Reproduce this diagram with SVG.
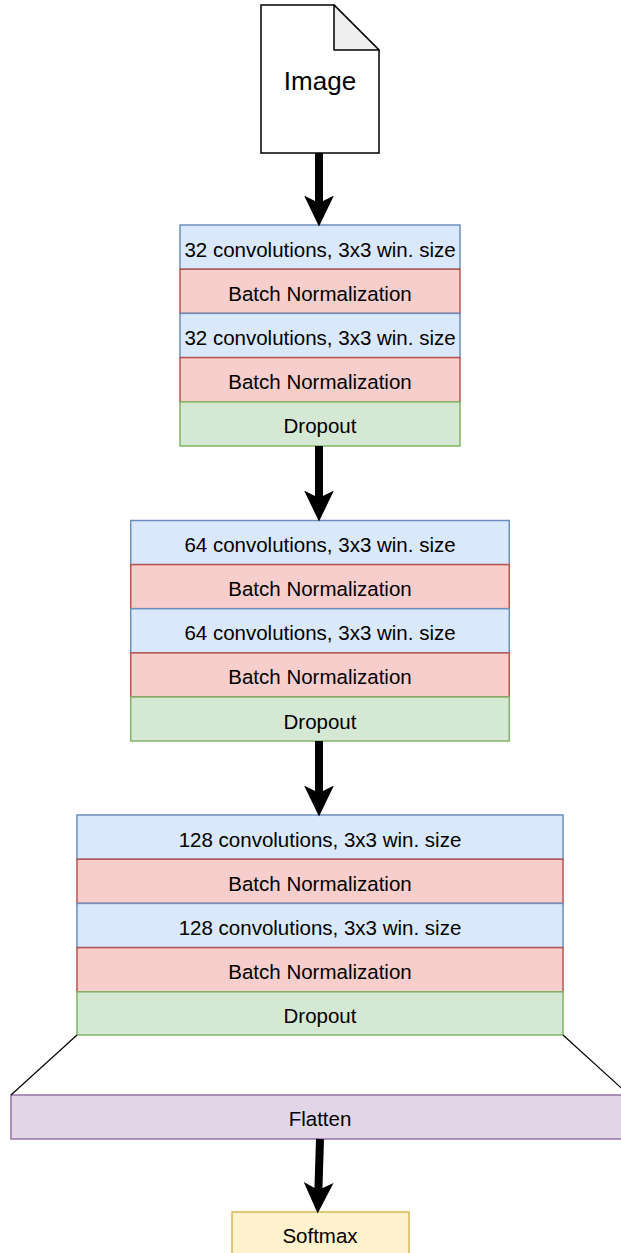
<svg xmlns="http://www.w3.org/2000/svg" width="621" height="1253" viewBox="0 0 621 1253">
<style>
text{font-family:"Liberation Sans",Arial,Helvetica,sans-serif;font-size:20.5px;fill:#000;text-anchor:middle}
.b{fill:#dae8fc;stroke:#6c8ebf;stroke-width:1.5}
.r{fill:#f8cecc;stroke:#b85450;stroke-width:1.5}
.g{fill:#d5e8d4;stroke:#82b366;stroke-width:1.5}
.p{fill:#e1d5e7;stroke:#9673a6;stroke-width:1.5}
.y{fill:#fff2cc;stroke:#d6b656;stroke-width:1.5}
.arr{stroke:#000;stroke-width:8;fill:none;marker-end:url(#ah)}
.thin{stroke:#000;stroke-width:1.2;fill:none}
</style>
<defs>
<marker id="ah" markerUnits="userSpaceOnUse" markerWidth="32" markerHeight="32" viewBox="0 0 30 28" refX="7" refY="14" orient="auto">
<path d="M29,14 L0,0 L7,14 L0,28 Z" fill="#000"/>
</marker>
</defs>
<rect width="621" height="1253" fill="#fff"/>
<g id="image">
<path d="M261,5 L334,5 L379,50 L379,153 L261,153 Z" fill="#fff" stroke="#000" stroke-width="1.5"/>
<path d="M334,5 L334,50 L379,50 Z" fill="#efefef" stroke="#000" stroke-width="1.5" stroke-linejoin="round"/>
<text x="320" y="90" style="font-size:26px">Image</text>
</g>
<g id="block1">
<rect class="b" x="180" y="225" width="280" height="44.2"/>
<rect class="r" x="180" y="269.2" width="280" height="44.2"/>
<rect class="b" x="180" y="313.4" width="280" height="44.2"/>
<rect class="r" x="180" y="357.6" width="280" height="44.2"/>
<rect class="g" x="180" y="401.8" width="280" height="44.2"/>
<text x="320" y="256.5">32 convolutions, 3x3 win. size</text>
<text x="320" y="300.7">Batch Normalization</text>
<text x="320" y="345">32 convolutions, 3x3 win. size</text>
<text x="320" y="389">Batch Normalization</text>
<text x="320" y="433.3">Dropout</text>
</g>
<g id="block2">
<rect class="b" x="130.7" y="520.5" width="378.6" height="44.1"/>
<rect class="r" x="130.7" y="564.6" width="378.6" height="44.1"/>
<rect class="b" x="130.7" y="608.7" width="378.6" height="44.2"/>
<rect class="r" x="130.7" y="652.9" width="378.6" height="44.1"/>
<rect class="g" x="130.7" y="697" width="378.6" height="44"/>
<text x="320" y="552">64 convolutions, 3x3 win. size</text>
<text x="320" y="596">Batch Normalization</text>
<text x="320" y="640.2">64 convolutions, 3x3 win. size</text>
<text x="320" y="684.4">Batch Normalization</text>
<text x="320" y="728.5">Dropout</text>
</g>
<g id="block3">
<rect class="b" x="77" y="815" width="486" height="44.2"/>
<rect class="r" x="77" y="859.2" width="486" height="44.2"/>
<rect class="b" x="77" y="903.4" width="486" height="44.2"/>
<rect class="r" x="77" y="947.6" width="486" height="44.2"/>
<rect class="g" x="77" y="991.8" width="486" height="43.2"/>
<text x="320" y="846.5">128 convolutions, 3x3 win. size</text>
<text x="320" y="890.7">Batch Normalization</text>
<text x="320" y="935">128 convolutions, 3x3 win. size</text>
<text x="320" y="979">Batch Normalization</text>
<text x="320" y="1023.3">Dropout</text>
</g>
<g id="flatten">
<rect class="p" x="11" y="1095" width="618" height="44"/>
<text x="320" y="1126">Flatten</text>
</g>
<g id="softmax">
<rect class="y" x="232" y="1212" width="177" height="46"/>
<text x="320" y="1243">Softmax</text>
</g>
<g id="connectors">
<line class="arr" x1="319" y1="153" x2="319" y2="203"/>
<line class="arr" x1="319" y1="446" x2="319" y2="498"/>
<line class="arr" x1="319" y1="741" x2="319" y2="793"/>
<line class="arr" x1="320" y1="1139" x2="318.4" y2="1190"/>
<line class="thin" x1="77" y1="1035" x2="11" y2="1095"/>
<line class="thin" x1="563" y1="1035" x2="629" y2="1095"/>
</g>
</svg>
